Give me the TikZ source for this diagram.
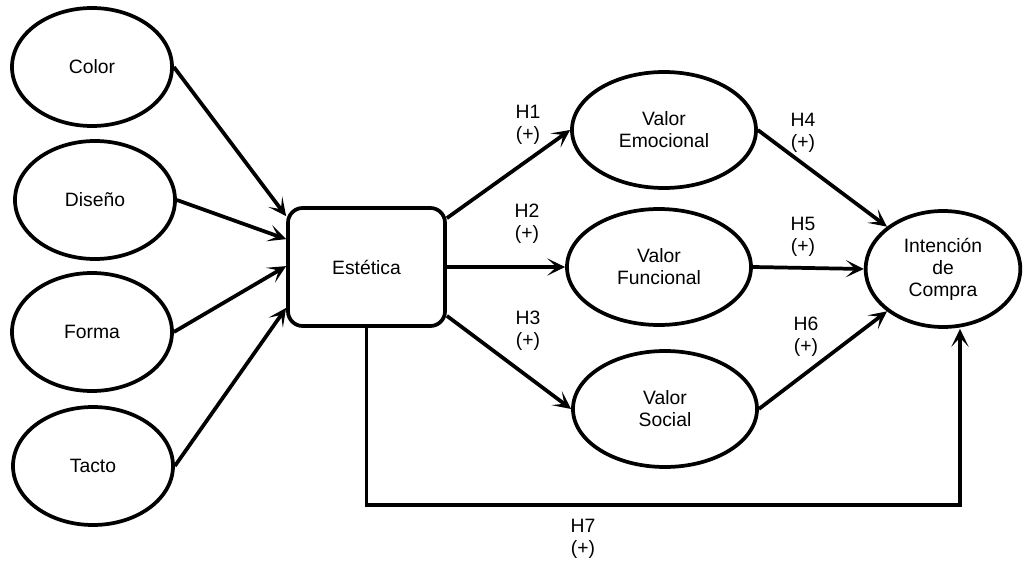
\documentclass[tikz,border=0pt]{standalone}
\usepackage{fontspec}
\setmainfont{Liberation Sans}
\usetikzlibrary{shapes.geometric,arrows.meta,calc}
\begin{document}
\begin{tikzpicture}[x=0.75pt,y=-0.75pt,
  lw/.style={line width=2.8pt},
  txt/.style={font=\fontsize{14.5}{16.5}\selectfont,align=center},
  oval/.style={draw,ellipse,lw,inner sep=0pt,txt},
  smallov/.style={oval,minimum width=120pt,minimum height=88.5pt},
  valov/.style={oval,minimum width=138pt,minimum height=87pt},
  boxst/.style={draw,lw,rectangle,rounded corners=11pt,minimum width=117.75pt,minimum height=88.5pt,txt},
  lbl/.style={txt,inner sep=0pt},
  arr/.style={lw,-{Stealth[length=13.5pt,width=13pt,inset=7pt]}}
]
\useasboundingbox (0,0) rectangle (1033,563);

\node[smallov] (color) at (92,67) {Color};
\node[smallov] (diseno) at (95,200) {Diseño};
\node[smallov] (forma) at (92,332) {Forma};
\node[smallov] (tacto) at (93,466) {Tacto};

\node[boxst] (est) at (366.5,267) {Estética};

\node[valov] (emo) at (664,130) {Valor\\Emocional};
\node[valov] (fun) at (659,267) {Valor\\Funcional};
\node[valov] (soc) at (665,409) {Valor\\Social};

\node[oval,minimum width=116pt,minimum height=87pt] (int) at (943,269) {Intención\\de\\Compra};

\coordinate (h7) at (960,505);

\draw[arr] (color.east) -- ($(est.north west)+(0,10)$);
\draw[arr] (diseno.east) -- ($(est.north west)+(0,33)$);
\draw[arr] (forma.east) -- ($(est.north west)+(0,60)$);
\draw[arr] (tacto.east) -- ($(est.south west)+(0,-20)$);

\draw[arr] ($(est.north east)+(0,12)$) -- (emo.west);
\draw[arr] (est.east) -- (fun.west);
\draw[arr] ($(est.south east)+(0,-12)$) -- (soc.west);

\draw[arr] (emo.east) -- (int.north west);
\draw[arr] (fun.east) -- (int.west);
\draw[arr] (soc.east) -- (int.south west);
\draw[arr] (est.south) |- (h7) -- (h7 |- int.south);

\node[lbl] (l1) at (528,125) {H1\\(+)};
\node[lbl] (l2) at (527,224) {H2\\(+)};
\node[lbl] (l3) at (528,331) {H3\\(+)};
\node[lbl] (l4) at (803,133) {H4\\(+)};
\node[lbl] (l5) at (803,237) {H5\\(+)};
\node[lbl] (l6) at (806,337) {H6\\(+)};
\node[lbl] (l7) at (583,539) {H7\\(+)};
\end{tikzpicture}
\end{document}
